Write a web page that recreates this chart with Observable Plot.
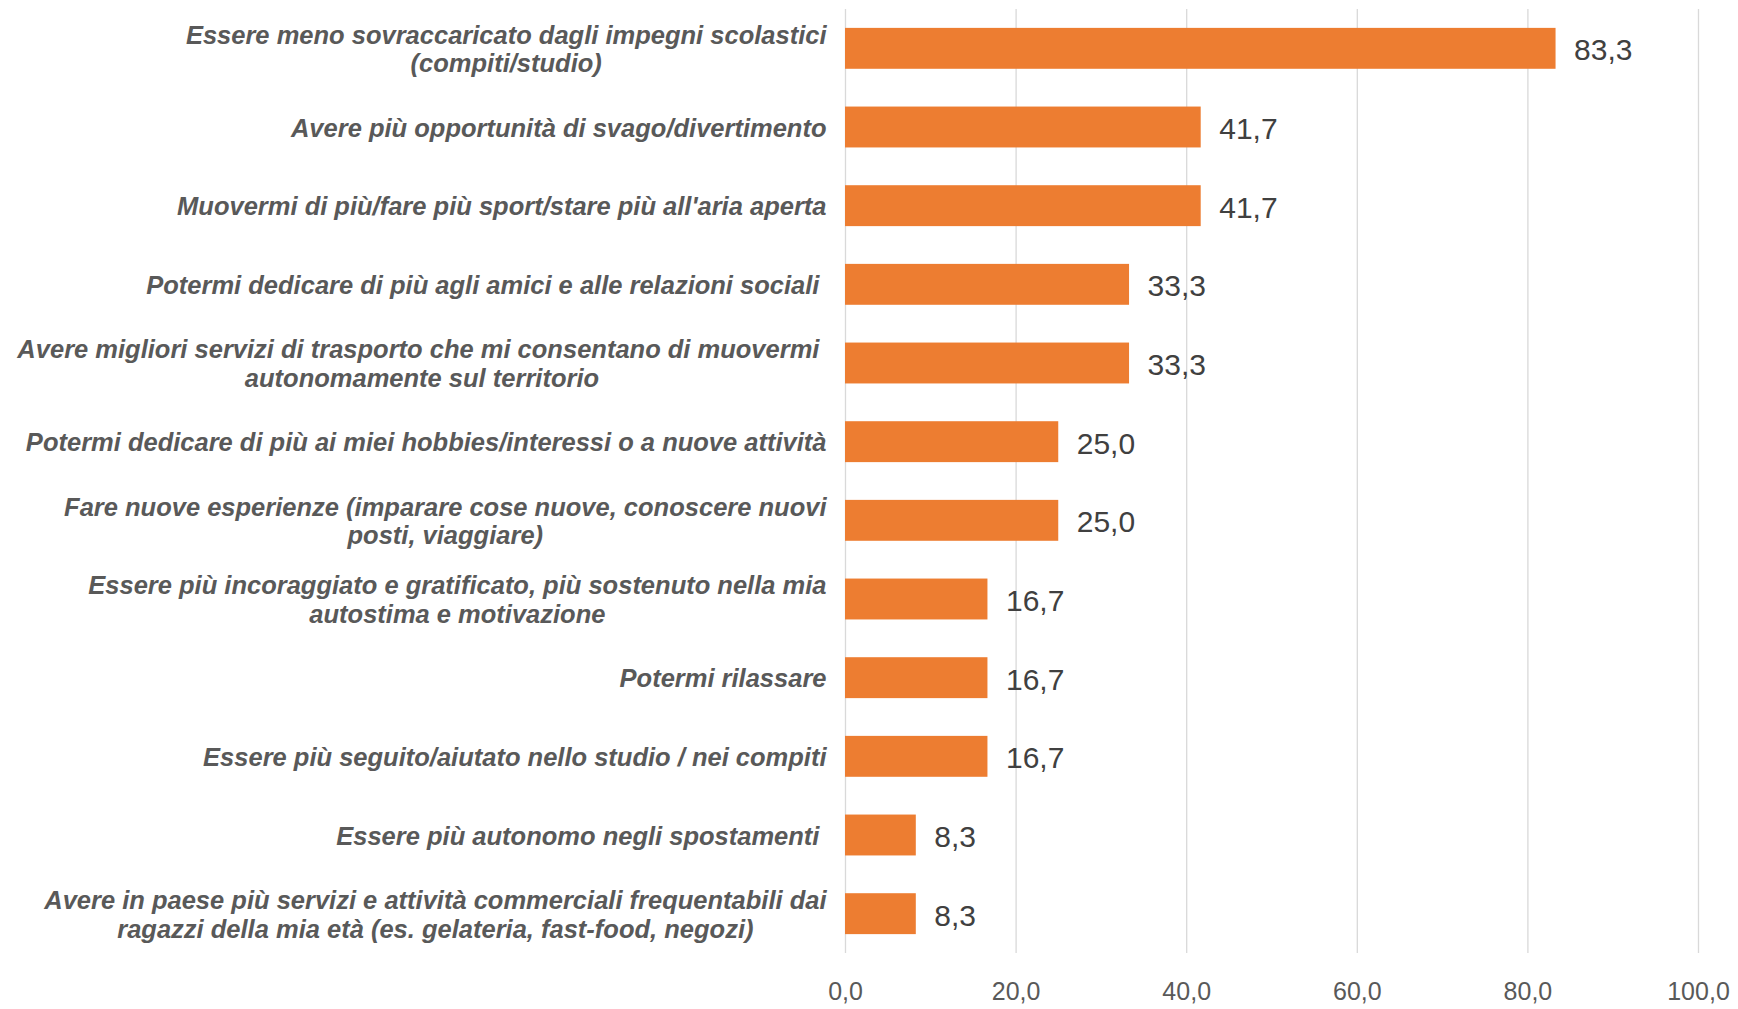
<!DOCTYPE html>
<html>
<head>
<meta charset="utf-8">
<script src="https://cdn.jsdelivr.net/npm/d3@7"></script>
<script src="https://cdn.jsdelivr.net/npm/@observablehq/plot@0.6"></script>
<style>
  html, body { margin: 0; padding: 0; background: #fff; }
  svg text, svg tspan { white-space: pre; }
</style>
</head>
<body>
<div id="chart"></div>
<script>
const categories = [
  "Essere meno sovraccaricato dagli impegni scolastici\n(compiti/studio)",
  "Avere più opportunità di svago/divertimento",
  "Muovermi di più/fare più sport/stare più all'aria aperta",
  "Potermi dedicare di più agli amici e alle relazioni sociali ",
  "Avere migliori servizi di trasporto che mi consentano di muovermi \nautonomamente sul territorio",
  "Potermi dedicare di più ai miei hobbies/interessi o a nuove attività",
  "Fare nuove esperienze (imparare cose nuove, conoscere nuovi\nposti, viaggiare)",
  "Essere più incoraggiato e gratificato, più sostenuto nella mia\nautostima e motivazione",
  "Potermi rilassare",
  "Essere più seguito/aiutato nello studio / nei compiti",
  "Essere più autonomo negli spostamenti ",
  "Avere in paese più servizi e attività commerciali frequentabili dai\nragazzi della mia età (es. gelateria, fast-food, negozi)"
];
const values = [83.3, 41.7, 41.7, 33.3, 33.3, 25.0, 25.0, 16.7, 16.7, 16.7, 8.3, 8.3];
const xTicks = [0, 20, 40, 60, 80, 100];

const data = categories.map((c, i) => ({cat: c, value: values[i]}));
const fmt = v => v.toFixed(1).replace(".", ",");

const FONT = "'Liberation Sans', Arial, Helvetica, sans-serif";
const labelSize = 25.5;
const canvas = document.createElement("canvas");
const ctx = canvas.getContext("2d");
ctx.font = `italic bold ${labelSize}px 'Liberation Sans'`;
const blockWidth = c => Math.max(...c.split("\n").map(l => ctx.measureText(l).width));
const gap = 19;

const labelMarks = categories.map(c =>
  Plot.text([c], {
    y: d => d,
    frameAnchor: "left",
    text: d => d,
    textAnchor: "middle",
    dx: -(gap + blockWidth(c) / 2),
    lineAnchor: "middle",
    lineHeight: 1.12,
    fontSize: labelSize,
    fontWeight: "bold",
    fontStyle: "italic",
    fill: "#595959"
  })
);

const chart = Plot.plot({
  width: 1738,
  height: 1009,
  marginLeft: 845,
  marginRight: 40,
  marginTop: 9,
  marginBottom: 56,
  style: {fontFamily: FONT, background: "#fff"},
  x: {domain: [0, 100], ticks: xTicks},
  y: {domain: categories, paddingInner: 0.48, paddingOuter: 0.24, round: false, axis: null},
  marks: [
    Plot.gridX(xTicks, {stroke: "#d9d9d9", strokeOpacity: 1, strokeWidth: 1.3}),
    Plot.axisX(xTicks, {
      tickSize: 0,
      tickPadding: 29,
      tickFormat: fmt,
      fontSize: 25,
      fill: "#595959",
      label: null
    }),
    Plot.barX(data, {x: "value", y: "cat", fill: "#ED7D31"}),
    Plot.text(data, {
      x: "value",
      y: "cat",
      text: d => fmt(d.value),
      textAnchor: "start",
      dx: 18,
      dy: 2,
      fontSize: 30,
      fill: "#404040"
    }),
    ...labelMarks
  ]
});
document.getElementById("chart").appendChild(chart);
</script>
</body>
</html>
